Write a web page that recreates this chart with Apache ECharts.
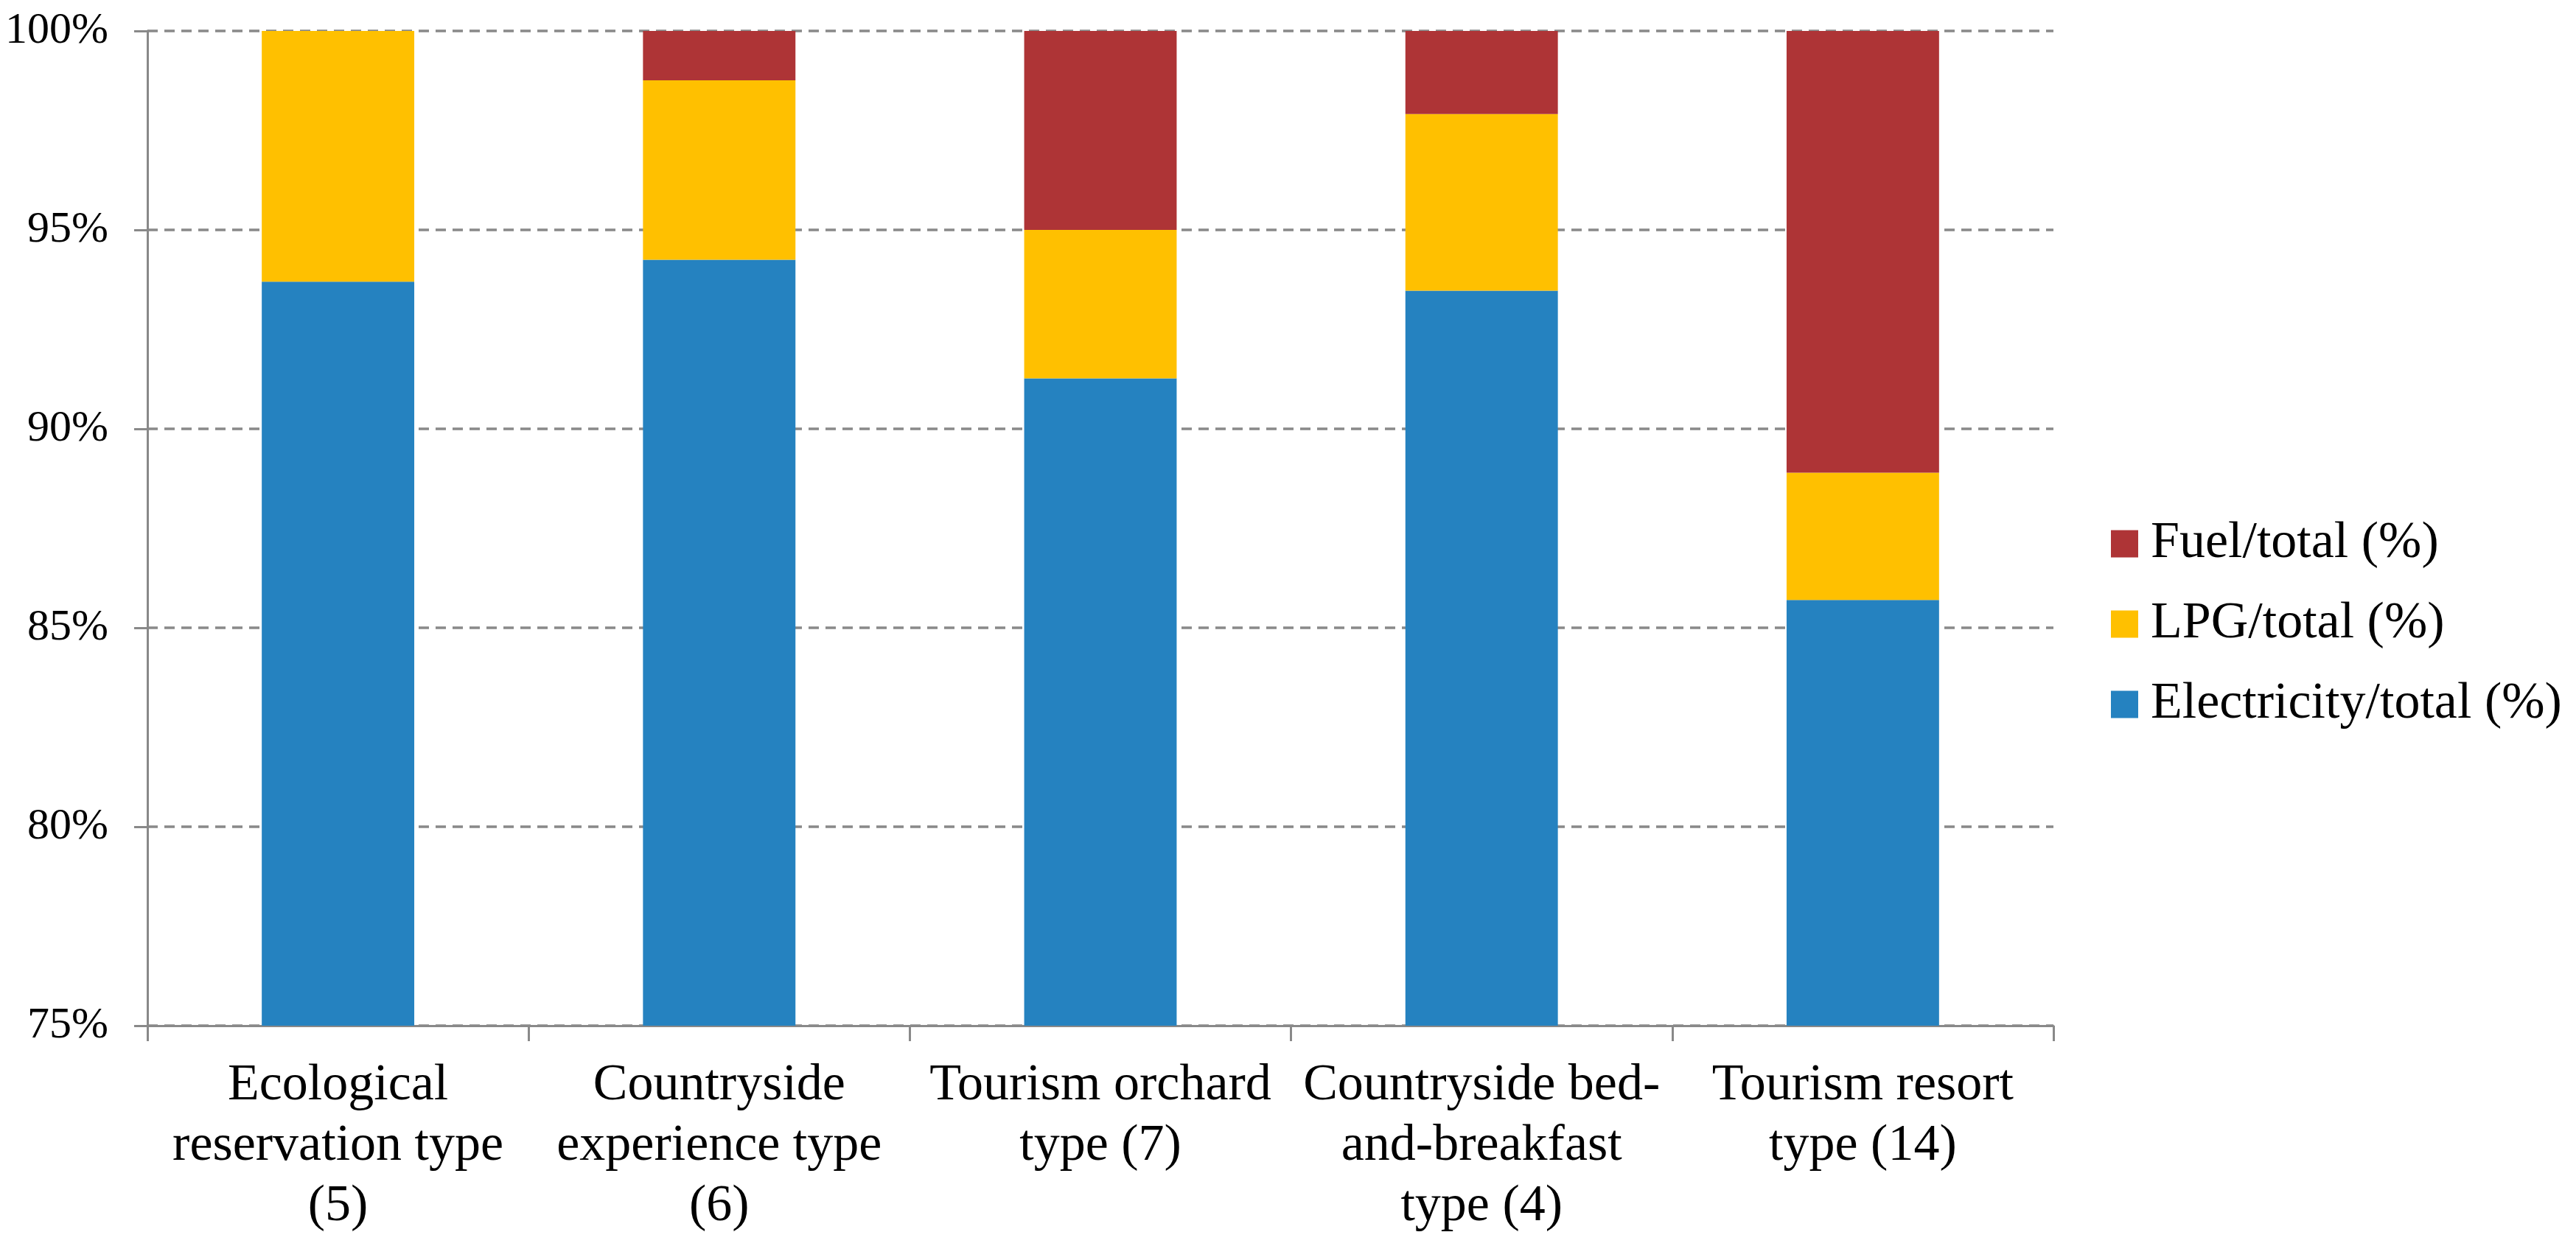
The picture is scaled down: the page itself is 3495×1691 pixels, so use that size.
<!DOCTYPE html>
<html>
<head>
<meta charset="utf-8">
<script src="https://cdn.jsdelivr.net/npm/echarts@6/dist/echarts.min.js"></script>
<style>
html,body{margin:0;padding:0;background:#fff;}
#main{width:3495px;height:1691px;}
</style>
</head>
<body>
<div id="main"></div>
<script>
const categories = [
  'Ecological\nreservation type\n(5)',
  'Countryside\nexperience type\n(6)',
  'Tourism orchard\ntype (7)',
  'Countryside bed-\nand-breakfast\ntype (4)',
  'Tourism resort\ntype (14)'
];
const electricity = [93.70, 94.25, 91.27, 93.47, 85.70];
const lpg = [6.30, 4.51, 3.73, 4.44, 3.20];
const fuel = [0.00, 1.24, 5.00, 2.09, 11.10];
const seriesNames = ['Electricity/total (%)', 'LPG/total (%)', 'Fuel/total (%)'];
const legendOrder = ['Fuel/total (%)', 'LPG/total (%)', 'Electricity/total (%)'];

const gray = '#898989';
const font = "'Liberation Serif', 'Times New Roman', serif";

const chart = echarts.init(document.getElementById('main'));
chart.setOption({
  animation: false,
  backgroundColor: '#ffffff',
  grid: { left: 200, right: 709, top: 42, bottom: 299, containLabel: false },
  legend: {
    orient: 'vertical',
    left: 2864,
    top: 703,
    padding: 0,
    itemWidth: 37,
    itemHeight: 37,
    itemGap: 39,
    data: legendOrder,
    icon: 'rect',
    textStyle: { fontFamily: font, fontSize: 70, color: '#000', padding: [0, 0, 0, 12] }
  },
  xAxis: {
    type: 'category',
    data: categories,
    axisLine: { show: true, lineStyle: { color: gray, width: 3 } },
    axisTick: { show: true, length: 21, lineStyle: { color: gray, width: 3 } },
    axisLabel: { interval: 0, fontFamily: font, fontSize: 70, lineHeight: 82, color: '#000', margin: 41 },
    splitLine: { show: false }
  },
  yAxis: {
    type: 'value',
    min: 75,
    max: 100,
    interval: 5,
    axisLine: { show: true, lineStyle: { color: gray, width: 3 } },
    axisTick: { show: true, length: 18, lineStyle: { color: gray, width: 3 } },
    axisLabel: { formatter: '{value}%', fontFamily: font, fontSize: 60, color: '#000', margin: 53 },
    splitLine: { show: true, lineStyle: { color: gray, width: 3.5, type: [14, 9] } }
  },
  series: [
    { name: seriesNames[0], type: 'bar', stack: 'total', barWidth: '40%', data: electricity, itemStyle: { color: '#2582c0' }, clip: true },
    { name: seriesNames[1], type: 'bar', stack: 'total', barWidth: '40%', data: lpg, itemStyle: { color: '#ffc000' }, clip: true },
    { name: seriesNames[2], type: 'bar', stack: 'total', barWidth: '40%', data: fuel, itemStyle: { color: '#ae3436' }, clip: true }
  ]
});
</script>
</body>
</html>
